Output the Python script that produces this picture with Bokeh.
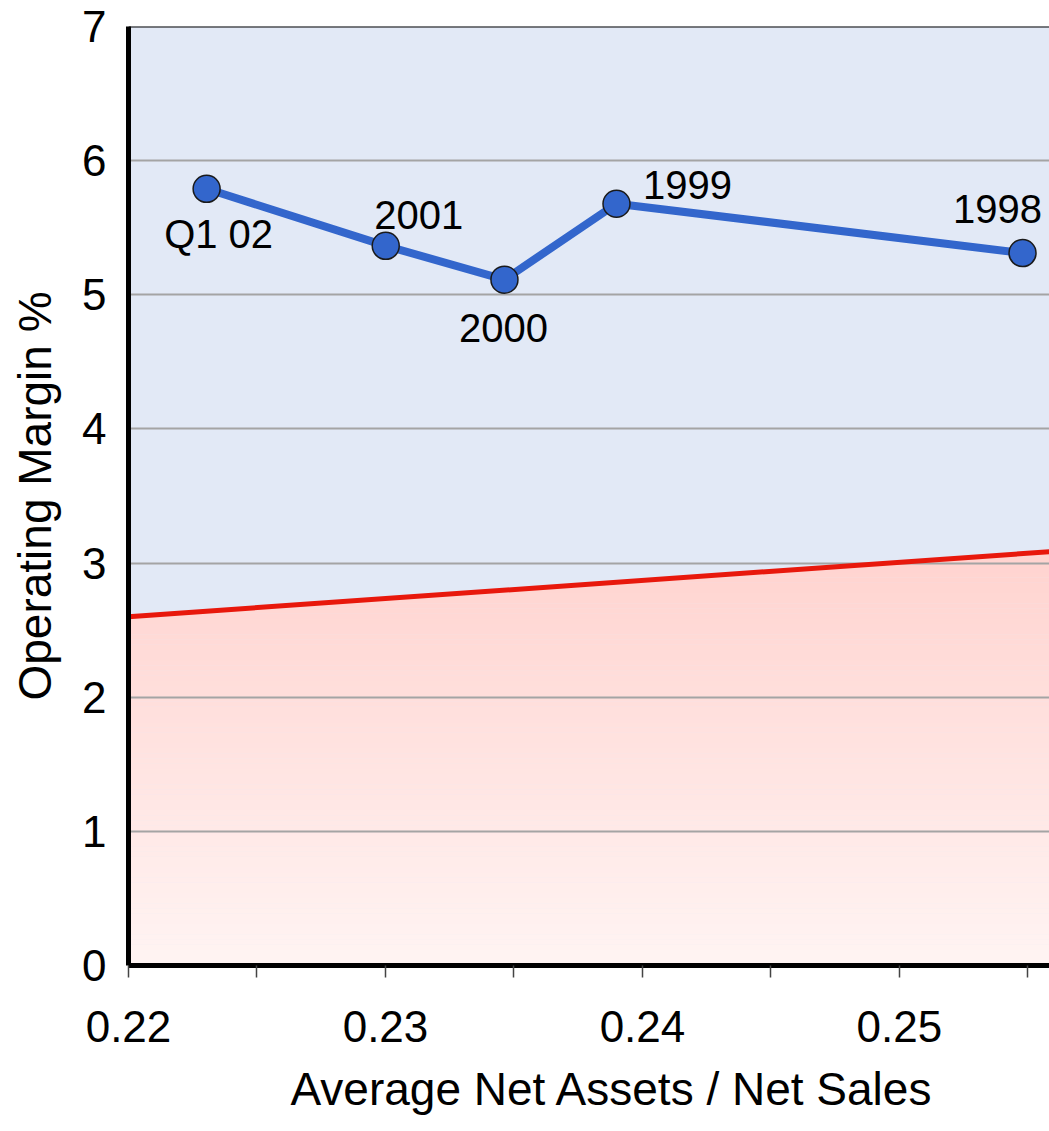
import numpy as np
from bokeh.plotting import figure
from bokeh.models import Range1d, FixedTicker, ColumnDataSource, Title, Span
from bokeh.core.properties import value
from bokeh.embed import file_html
from bokeh.resources import INLINE

# Operating margin versus asset intensity, by period
periods = ["Q1 02", "2001", "2000", "1999", "1998"]
net_assets_to_sales = [0.22304, 0.23001, 0.23463, 0.23899, 0.25479]
operating_margin = [5.79, 5.365, 5.113, 5.679, 5.311]

# Hurdle line: the margin needed at a given asset intensity
hurdle_x = [0.22, 0.25584]
hurdle_y = [2.60, 3.085]

x_ticks = [0.22, 0.23, 0.24, 0.25]
x_minor_ticks = [0.225, 0.235, 0.245, 0.255]
y_ticks = [0, 1, 2, 3, 4, 5, 6, 7]

# label placement around each point (screen pixels)
label_dx = [12, 33, -1, 71, -25]
label_dy = [45, -31, 48, -19, -44]

FONT = "Liberation Sans"

p = figure(
    width=1049, height=1131,
    x_range=Range1d(hurdle_x[0], hurdle_x[1]), y_range=Range1d(0, 7),
    output_backend="svg", toolbar_location=None, tools="",
    min_border_left=128, min_border_right=0, min_border_top=26, min_border_bottom=164,
)
p.background_fill_color = "#E2E9F6"
p.border_fill_color = "white"
p.outline_line_color = None

# shaded region under the hurdle line, as a vertical gradient of thin bands
xs = np.linspace(hurdle_x[0], hurdle_x[1], 200)
line_y = np.interp(xs, hurdle_x, hurdle_y)
top_y = max(hurdle_y)
n_bands = 80
edges = np.linspace(0, top_y, n_bands + 1)
c_top = np.array([255, 211, 207])
c_bot = np.array([255, 244, 243])
for i in range(n_bands):
    lo, hi = edges[i], edges[i + 1]
    t = (lo + hi) / 2 / top_y
    c = (c_bot + (c_top - c_bot) * t).round().astype(int)
    col = "#%02x%02x%02x" % tuple(c)
    y1 = np.minimum(lo, line_y)
    y2 = np.minimum(hi + 0.002, line_y)
    r = p.varea(x=xs, y1=y1, y2=y2, fill_color=col)
    r.level = "image"

# hurdle line
p.line(hurdle_x, hurdle_y, line_color="#E8180C", line_width=5)

# margin trajectory
src = ColumnDataSource(dict(
    x=net_assets_to_sales, y=operating_margin, label=periods,
    dx=label_dx, dy=label_dy,
))
p.line("x", "y", source=src, line_color="#3366CC", line_width=8)
p.scatter("x", "y", source=src, size=27, fill_color="#3366CC",
          line_color="#1A1A1A", line_width=1.5)
p.text("x", "y", text="label", source=src, x_offset="dx", y_offset="dy",
       text_align="center", text_baseline="middle",
       text_font=value(FONT), text_font_size="40px", text_color="black")

# top border of the plotting area
p.add_layout(Span(location=7, dimension="width", line_color="black", line_width=2))

# grid
p.xgrid.visible = False
p.ygrid.ticker = FixedTicker(ticks=y_ticks)
p.ygrid.grid_line_color = "#A4A4A4"
p.ygrid.grid_line_width = 2

# x axis
xa = p.xaxis[0]
xa.ticker = FixedTicker(ticks=x_ticks, minor_ticks=x_minor_ticks)
xa.major_label_overrides = {t: f"{t:.2f}" for t in x_ticks}
xa.axis_line_color = "black"
xa.axis_line_width = 5
xa.major_tick_out = 12
xa.major_tick_in = 0
xa.minor_tick_out = 12
xa.minor_tick_in = 0
xa.major_tick_line_color = "#444444"
xa.minor_tick_line_color = "#444444"
xa.major_tick_line_width = 1.5
xa.minor_tick_line_width = 1.5
xa.major_label_text_font = FONT
xa.major_label_text_font_size = "44px"
xa.major_label_text_color = "black"
xa.major_label_standoff = 33

# y axis
ya = p.yaxis[0]
ya.ticker = FixedTicker(ticks=y_ticks)
ya.axis_line_color = "black"
ya.axis_line_width = 5
ya.major_tick_out = 0
ya.major_tick_in = 0
ya.minor_tick_out = 0
ya.minor_tick_in = 0
ya.major_label_text_font = FONT
ya.major_label_text_font_size = "44px"
ya.major_label_text_color = "black"
ya.major_label_standoff = 22
ya.axis_label = "Operating Margin %"
ya.axis_label_text_font = FONT
ya.axis_label_text_font_size = "46px"
ya.axis_label_text_font_style = "normal"
ya.axis_label_text_color = "black"
ya.axis_label_standoff = 18

# x axis title, a little right of the frame centre
p.add_layout(Title(text="Average Net Assets / Net Sales", align="left", offset=162,
                   text_font=FONT, text_font_size="46px", text_font_style="normal",
                   text_color="black", standoff=33), "below")

open("out.html", "w").write(file_html(p, INLINE))
